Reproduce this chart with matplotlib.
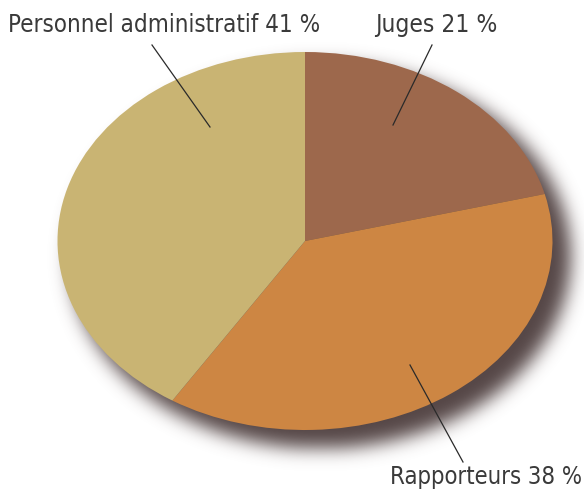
import numpy as np
import matplotlib
matplotlib.use("Agg")
import matplotlib.pyplot as plt
from matplotlib import font_manager

labels = ["Juges 21 %", "Rapporteurs 38 %", "Personnel administratif 41 %"]
values = [21, 38, 41]
colors = ["#9D684C", "#CD8643", "#C9B473"]

W, H = 584, 492
CX, CY, RX, RY = 305, 241, 247.5, 189.0

fig = plt.figure(figsize=(W / 100, H / 100), dpi=100)
ax = fig.add_axes([0, 0, 1, 1])
ax.set_xlim(-CX / RX, (W - CX) / RX)
ax.set_ylim((CY - H) / RY, CY / RY)
ax.axis("off")

def px(x, y):
    return ((x - CX) / RX, (CY - y) / RY)

# blurred drop shadow
ny, nx = H, W
yy, xx = np.mgrid[0:ny, 0:nx]
dx, dy = 15, 15
mask = (((xx - CX - dx) / (RX + 3)) ** 2 + ((yy - CY - dy) / (RY + 3)) ** 2 <= 1).astype(float)
sig = 9
k = np.arange(-3 * sig, 3 * sig + 1)
g = np.exp(-k ** 2 / (2 * sig ** 2)); g /= g.sum()
blur = np.apply_along_axis(lambda r: np.convolve(r, g, mode="same"), 1, mask)
blur = np.apply_along_axis(lambda c: np.convolve(c, g, mode="same"), 0, blur)
img = np.zeros((ny, nx, 4))
img[..., 0] = 85 / 255; img[..., 1] = 70 / 255; img[..., 2] = 70 / 255
img[..., 3] = np.clip(blur * 1.0, 0, 1)
x0, x1 = ax.get_xlim(); y0, y1 = ax.get_ylim()
ax.imshow(img, extent=[x0, x1, y0, y1], aspect="auto", zorder=0, interpolation="bilinear")

ax.pie(values, colors=colors, startangle=90, counterclock=False, radius=1,
       center=(0, 0), frame=True, wedgeprops=dict(linewidth=0, zorder=2))
ax.set_xlim(x0, x1); ax.set_ylim(y0, y1)
ax.set_aspect("auto")
ax.axis("off")

text_kw = dict(family="DejaVu Sans", fontstretch="condensed", fontweight="light",
               color="#3a3a3a", va="center")
# label positions (pixel space: left, centre-y, right) and leader lines
label_pos = [(375, 25, 497), (390, 477, 582), (8, 25, 318)]
leaders = [((432, 45), (393, 125)), ((463, 462), (410, 365)), ((152, 45), (210, 127))]
fig.canvas.draw()
r = fig.canvas.get_renderer()
for lab, (lx, ly, rx), (p0, p1) in zip(labels, label_pos, leaders):
    t = ax.text(*px(lx, ly), lab, ha="left", zorder=5, fontsize=17, **text_kw)
    w = t.get_window_extent(r).width
    t.set_fontsize(17 * (rx - lx) / w)
    a, b = px(*p0), px(*p1)
    ax.plot([a[0], b[0]], [a[1], b[1]], color="#2a2a2a", lw=0.9, zorder=5)

fig.savefig("out.png", dpi=100)
